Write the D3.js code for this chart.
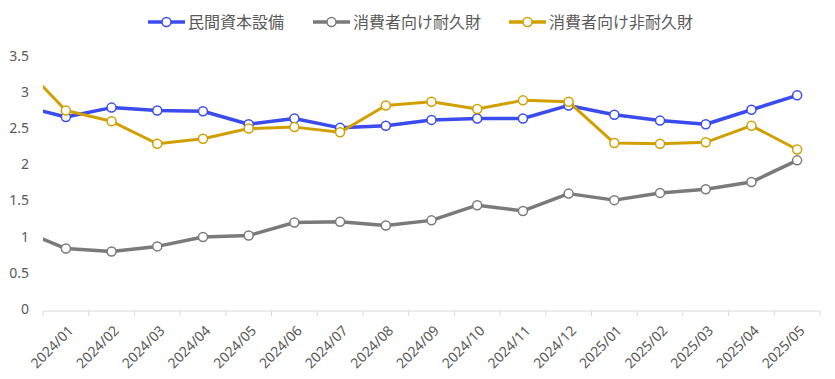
<!doctype html>
<html>
<head>
<meta charset="utf-8">
<script src="https://d3js.org/d3.v7.min.js"></script>
<style>
  body { margin: 0; background: #fff; }
  text { font-family: "Noto Sans", "Noto Sans CJK JP", sans-serif; fill: #595959; }
</style>
</head>
<body>
<script>
// months on the axis; "2023/12" sits one band left of the axis and is clipped away
var months = ["2024/01","2024/02","2024/03","2024/04","2024/05","2024/06","2024/07","2024/08","2024/09",
              "2024/10","2024/11","2024/12","2025/01","2025/02","2025/03","2025/04","2025/05"];
var prevMonth = "2023/12";
var seriesNames = ["民間資本設備", "消費者向け耐久財", "消費者向け非耐久財"];
var capital    = [2.83, 2.67, 2.80, 2.76, 2.75, 2.57, 2.65, 2.52, 2.55, 2.63, 2.65, 2.65, 2.83, 2.70, 2.62, 2.57, 2.77, 2.97];
var durable    = [1.11, 0.85, 0.81, 0.88, 1.01, 1.03, 1.21, 1.22, 1.17, 1.24, 1.45, 1.37, 1.61, 1.52, 1.62, 1.67, 1.77, 2.07];
var nondurable = [3.42, 2.76, 2.61, 2.30, 2.37, 2.51, 2.53, 2.46, 2.83, 2.88, 2.78, 2.90, 2.88, 2.31, 2.30, 2.32, 2.55, 2.22];
var yTicks = [0, 0.5, 1, 1.5, 2, 2.5, 3, 3.5];
var colors = ["#3a4cee", "#7a7a7a", "#d1a000"];

var W = 835, H = 379;
var plotL = 43, plotR = 820, plotT = 57, plotB = 310;

var svg = d3.select("body").append("svg").attr("width", W).attr("height", H);

var x = d3.scaleBand().domain(months).range([plotL, plotR]);
var step = x.bandwidth();
function xPos(m) {
  if (m === prevMonth) return plotL - step / 2;
  return x(m) + step / 2;
}
var y = d3.scaleLinear().domain([0, 3.5]).range([plotB, plotT]);

// y axis labels (no line, no grid)
svg.append("g").selectAll("text").data(yTicks).enter().append("text")
  .attr("x", 29).attr("y", function (d) { return y(d) - 1; })
  .attr("dy", "0.35em").attr("text-anchor", "end")
  .style("font-size", "14px")
  .text(function (d) { return d; });

// x axis with ticks on band edges
var xAxis = svg.append("g").attr("transform", "translate(0," + (plotB + 1) + ")");
xAxis.append("line").attr("x1", plotL).attr("x2", plotR).attr("stroke", "#d9d9d9").attr("stroke-width", 1);
var edges = months.map(function (m) { return x(m); }).concat([plotR]);
xAxis.selectAll(".tk").data(edges).enter().append("line")
  .attr("x1", function (d) { return d; }).attr("x2", function (d) { return d; })
  .attr("y1", 0).attr("y2", 5).attr("stroke", "#d9d9d9");
xAxis.selectAll(".lbl").data(months).enter().append("text")
  .attr("transform", function (m) { return "translate(" + (xPos(m) + 5) + ",17) rotate(-45)"; })
  .attr("text-anchor", "end").attr("dy", "0.35em")
  .style("font-size", "14px")
  .text(function (m) { return m; });

svg.append("clipPath").attr("id", "plot")
  .append("rect").attr("x", plotL).attr("y", 0).attr("width", plotR - plotL).attr("height", plotB);

var allX = [prevMonth].concat(months);
var series = [capital, durable, nondurable];
var line = d3.line()
  .x(function (d, i) { return xPos(allX[i]); })
  .y(function (d) { return y(d); });

series.forEach(function (vals, s) {
  var g = svg.append("g").attr("clip-path", "url(#plot)");
  g.append("path").datum(vals).attr("d", line)
    .attr("fill", "none").attr("stroke", colors[s])
    .attr("stroke-width", s === 2 ? 3 : 3.5).attr("stroke-linejoin", "round");
  g.selectAll("circle").data(vals.slice(1)).enter().append("circle")
    .attr("cx", function (d, i) { return xPos(months[i]); })
    .attr("cy", function (d) { return y(d); })
    .attr("r", 4.5).attr("fill", "#fff")
    .attr("stroke", colors[s]).attr("stroke-width", 1.5);
});

// legend
var legX = [148, 313, 509];
var leg = svg.append("g");
seriesNames.forEach(function (name, s) {
  var lx = legX[s];
  leg.append("line").attr("x1", lx).attr("x2", lx + 37).attr("y1", 22).attr("y2", 22)
    .attr("stroke", colors[s]).attr("stroke-width", 3.5);
  leg.append("circle").attr("cx", lx + 18.5).attr("cy", 22).attr("r", 4.5)
    .attr("fill", "#fff").attr("stroke", colors[s]).attr("stroke-width", 1.5);
  leg.append("text").attr("x", lx + 40).attr("y", 22).attr("dy", "0.35em")
    .style("font-size", "16px").style("font-family", "'Noto Sans CJK JP', sans-serif")
    .text(name);
});
</script>
</body>
</html>
